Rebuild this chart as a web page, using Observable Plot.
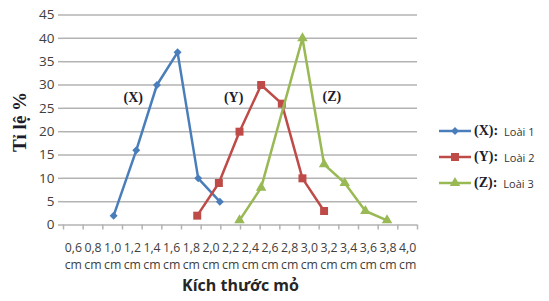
<!DOCTYPE html>
<html><head><meta charset="utf-8">
<script src="https://cdn.jsdelivr.net/npm/d3@7"></script>
<script src="https://cdn.jsdelivr.net/npm/@observablehq/plot@0.6"></script>
<style>
body{margin:0;background:#fff;}
#wrap{position:relative;width:549px;height:301px;overflow:hidden;background:#fff;}
#legend{position:absolute;left:438px;top:118px;}
.item{display:flex;align-items:center;height:26px;}
.key{font:bold 14px "Liberation Serif";color:#1c1c2c;margin-left:2px;}
.name{font:11px "Open Sans";color:#333;margin-left:6px;}
</style></head>
<body><div id="wrap"></div>
<script>
// Category tick labels on the x axis
const xTickValues = [0.6,0.8,1.0,1.2,1.4,1.6,1.8,2.0,2.2,2.4,2.6,2.8,3.0,3.2,3.4,3.6,3.8,4.0];
const xTickLabels = ["0,6","0,8","1,0","1,2","1,4","1,6","1,8","2,0","2,2","2,4","2,6","2,8","3,0","3,2","3,4","3,6","3,8","4,0"];
const xUnit = "cm";
const yTicks = [0,5,10,15,20,25,30,35,40,45];

// Series (x, y in %)
const seriesKeys = ["(X)","(Y)","(Z)"];
const seriesNames = ["Loài 1","Loài 2","Loài 3"];
const xX = [1.01,1.24,1.45,1.66,1.87,2.09];
const yX = [2,16,30,37,10,5];
const xY = [1.86,2.08,2.29,2.51,2.72,2.93,3.15];
const yY = [2,9,20,30,26,10,3];
const xZ = [2.29,2.51,2.93,3.15,3.36,3.57,3.79];
const yZ = [1,8,40,13,9,3,1];

// In-chart series annotations
const annX = [1.21,2.23,3.23];
const annY = [27.3,27.3,27.5];

const colors = ["#4a7ebb","#be4b48","#98b954"];
const symbols = ["diamond2","square","triangle"];
const radii = [3.6,4.5,3.9];

const series = [[xX,yX],[xY,yY],[xZ,yZ]].map(([xs,ys],s)=>xs.map((x,i)=>({x,y:ys[i],s})));
const ann = seriesKeys.map((k,i)=>({k,x:annX[i],y:annY[i]}));
const fmt = new Map(xTickValues.map((v,i)=>[v, xTickLabels[i]+"\n"+xUnit]));
const bounds = xTickValues.map(v=>+(v-0.1).toFixed(2)).concat([+(xTickValues[xTickValues.length-1]+0.1).toFixed(2)]);

const marks = [
  Plot.gridY(yTicks,{stroke:"#b3b3b3",strokeOpacity:1,strokeWidth:1.5}),
  Plot.axisY(yTicks,{tickSize:5,tickPadding:4,stroke:"#b3b3b3",strokeWidth:1.5,fill:"#404040",fontSize:13.5,fontFamily:"Open Sans",label:null}),
  Plot.axisX(bounds,{tickSize:5,stroke:"#b3b3b3",strokeWidth:1.5,tickFormat:()=>"",label:null}),
  Plot.axisX(xTickValues,{tickSize:0,tickPadding:14,tickFormat:d=>fmt.get(d),lineHeight:1.45,fontSize:12.3,fontFamily:"Open Sans",fill:"#404040",label:null}),
  Plot.text(["Kích thước mỏ"],{frameAnchor:"bottom",dy:66,fontSize:16,fontWeight:"bold",fontFamily:"Open Sans",fill:"#262626"}),
  Plot.text(["Tỉ lệ %"],{frameAnchor:"left",textAnchor:"middle",dx:-44,dy:2,rotate:-90,fontSize:19,fontWeight:"bold",fontFamily:"Liberation Serif",fill:"#1c1c2c"}),
];
series.forEach((data,s)=>{
  marks.push(Plot.line(data,{x:"x",y:"y",stroke:colors[s],strokeWidth:2.5}));
  marks.push(Plot.dot(data,{x:"x",y:"y",symbol:()=>symbols[s],fill:colors[s],r:radii[s],stroke:"none"}));
});
marks.push(Plot.text(ann,{x:"x",y:"y",text:"k",fontSize:14,fontWeight:"bold",fontFamily:"Liberation Serif",fill:"#1c1c2c"}));

const chart = Plot.plot({
  width:549,height:301,
  marginTop:14.5,marginBottom:76.5,marginLeft:63,marginRight:132,
  x:{type:"linear",domain:[0.5,4.1]},
  y:{domain:[0,45]},
  symbol:{type:"identity"},
  style:{background:"#fff"},
  marks
});
const wrap = document.getElementById("wrap");
wrap.appendChild(chart);

// Legend
const legend = document.createElement("div");
legend.id = "legend";
seriesKeys.forEach((k,i)=>{
  const item = document.createElement("div");
  item.className = "item";
  const svg = d3.create("svg").attr("width",34).attr("height",14);
  svg.append("line").attr("x1",1).attr("x2",33).attr("y1",7).attr("y2",7).attr("stroke",colors[i]).attr("stroke-width",2.5);
  const sym = {diamond2:d3.symbolDiamond2,square:d3.symbolSquare,triangle:d3.symbolTriangle}[symbols[i]];
  svg.append("path").attr("transform","translate(17,7)").attr("d",d3.symbol(sym, Math.PI*radii[i]*radii[i])()).attr("fill",colors[i]);
  item.appendChild(svg.node());
  const key = document.createElement("span"); key.className="key"; key.textContent = k+":";
  const name = document.createElement("span"); name.className="name"; name.textContent = seriesNames[i];
  item.appendChild(key); item.appendChild(name);
  legend.appendChild(item);
});
wrap.appendChild(legend);
</script>
</body></html>
